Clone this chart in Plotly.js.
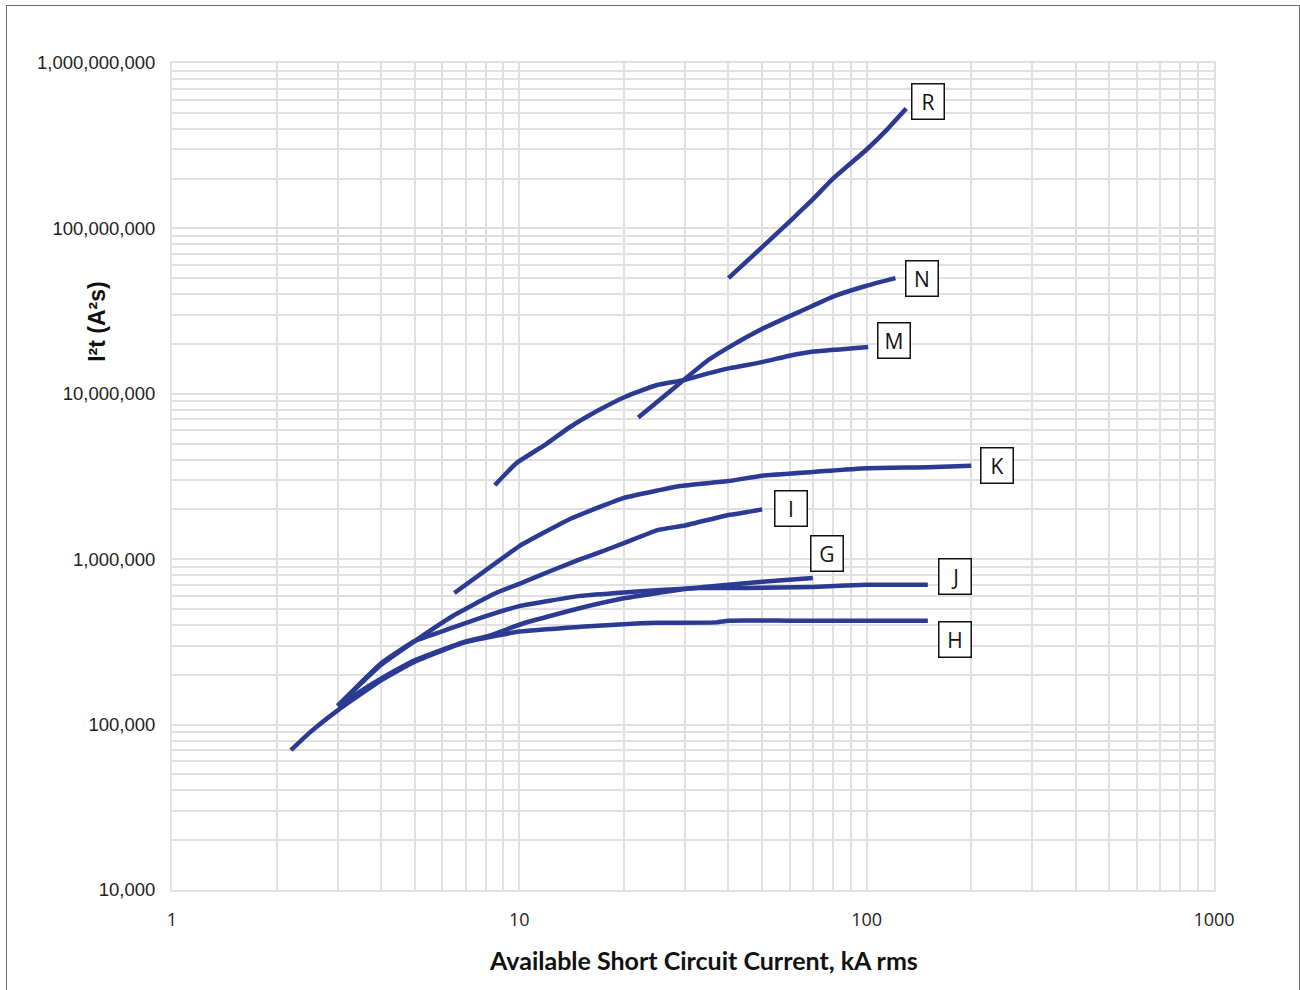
<!DOCTYPE html>
<html>
<head>
<meta charset="utf-8">
<script src="https://cdn.plot.ly/plotly-3.0.1.min.js"></script>
<style>
  html, body { margin: 0; padding: 0; background: #ffffff; }
  #wrap { position: relative; width: 1300px; height: 990px; }
  #chart { width: 1300px; height: 990px; }
  #frame { position: absolute; left: 6px; top: 5px; width: 1294px; height: 990px;
           border-left: 1.5px solid #6b6b6b; border-top: 1.5px solid #6b6b6b; border-right: 1.5px solid #6b6b6b;
           pointer-events: none; box-sizing: border-box; }
</style>
</head>
<body>
<div id="wrap">
  <div id="chart"></div>
  <div id="frame"></div>
</div>
<script>
// ---- Data (kA rms vs I²t A²s) ----
const R_x = [40, 50, 60, 70, 80, 100, 115, 130];
const R_y = [5.0e7, 7.7e7, 1.1e8, 1.5e8, 2.0e8, 3.0e8, 4.0e8, 5.3e8];

const N_x = [22, 26, 29.7, 35, 40.4, 50.4, 65.7, 80, 100, 121];
const N_y = [7.2e6, 9.6e6, 1.21e7, 1.6e7, 1.93e7, 2.49e7, 3.21e7, 3.87e7, 4.5e7, 5.0e7];

const M_x = [8.5, 9.8, 12, 14, 17, 20.2, 24.9, 29.7, 35, 40.4, 50.4, 60, 70.3, 85, 101];
const M_y = [2.8e6, 3.8e6, 5.0e6, 6.3e6, 8.0e6, 9.6e6, 1.13e7, 1.21e7, 1.33e7, 1.43e7, 1.56e7, 1.7e7, 1.8e7, 1.86e7, 1.92e7];

const K_x = [6.5, 8.8, 10, 14, 20, 25, 29, 40, 50, 70, 100, 150, 200];
const K_y = [6.25e5, 9.9e5, 1.2e6, 1.75e6, 2.35e6, 2.6e6, 2.77e6, 2.97e6, 3.2e6, 3.37e6, 3.55e6, 3.6e6, 3.67e6];

const I_x = [3, 4, 5, 6.5, 8.5, 10, 12.5, 15, 17, 20, 25, 30, 40, 45, 50];
const I_y = [1.3e5, 2.3e5, 3.2e5, 4.6e5, 6.2e5, 7.1e5, 8.6e5, 1.0e6, 1.1e6, 1.25e6, 1.5e6, 1.6e6, 1.85e6, 1.92e6, 2.0e6];

const G_x = [3, 4, 5, 6.9, 8.2, 10.3, 14.6, 20, 30, 40, 50, 70];
const G_y = [1.3e5, 1.9e5, 2.45e5, 3.15e5, 3.45e5, 4.1e5, 5.0e5, 5.8e5, 6.6e5, 7.0e5, 7.3e5, 7.7e5];

const J_x = [3, 4, 5, 6.3, 7.7, 10, 15, 20, 33, 45, 70, 100, 150];
const J_y = [1.3e5, 2.35e5, 3.2e5, 3.8e5, 4.4e5, 5.2e5, 6.0e5, 6.3e5, 6.7e5, 6.7e5, 6.8e5, 7.0e5, 7.0e5];

const H_x = [2.2, 2.5, 3, 4, 5, 7, 10, 15, 20, 25, 37, 40, 60, 100, 150];
const H_y = [7.0e4, 9.0e4, 1.22e5, 1.85e5, 2.4e5, 3.15e5, 3.65e5, 3.9e5, 4.05e5, 4.13e5, 4.15e5, 4.25e5, 4.25e5, 4.25e5, 4.25e5];

const seriesNames = ["R", "N", "M", "K", "I", "G", "J", "H"];
const seriesX = [R_x, N_x, M_x, K_x, I_x, G_x, J_x, H_x];
const seriesY = [R_y, N_y, M_y, K_y, I_y, G_y, J_y, H_y];

const xTickVals = [1, 10, 100, 1000];
const xTickText = ["1", "10", "100", "1000"];
const yTickVals = [1e4, 1e5, 1e6, 1e7, 1e8, 1e9];
const yTickText = ["10,000", "100,000", "1,000,000", "10,000,000", "100,000,000", "1,000,000,000"];

const xTitle = "Available Short Circuit Current, kA rms";
const yTitle = "I²t (A²s)";

// label offsets (pixels) from each curve's end point
const labelShift = {
  R: [22, 7], N: [27, 0], M: [26, 6], K: [26, 0],
  I: [29, 1], G: [14, 24], J: [27, 8], H: [27, -19]
};

// ---- Build ----
const lineColor = "#2b3a92";
const traces = seriesNames.map((n, i) => ({
  type: "scatter", mode: "lines", name: n,
  x: seriesX[i], y: seriesY[i],
  line: { color: lineColor, width: 4.5, shape: "spline", smoothing: 0.4 },
  hoverinfo: "x+y+name"
}));

const minorX = [], minorY = [];
for (let d = 0; d < 3; d++) for (let k = 2; k <= 9; k++) minorX.push(k * Math.pow(10, d));
for (let d = 4; d < 9; d++) for (let k = 2; k <= 9; k++) minorY.push(k * Math.pow(10, d));

const annotations = seriesNames.map((n, i) => {
  const xs = seriesX[i], ys = seriesY[i];
  return {
    x: Math.log10(xs[xs.length - 1]), y: Math.log10(ys[ys.length - 1]),
    xref: "x", yref: "y", text: n, showarrow: false,
    xshift: labelShift[n][0], yshift: labelShift[n][1],
    font: { family: "Open Sans, Noto Sans, sans-serif", size: 21, color: "#111111" },
    bgcolor: "#ffffff", bordercolor: "#111111", borderwidth: 1.5, borderpad: 1,
    width: 29, height: 32, align: "center", valign: "middle"
  };
});
annotations.push({
  x: 0.51, y: -0.0846, xref: "paper", yref: "paper", xanchor: "center", yanchor: "middle",
  text: "<b>" + xTitle + "</b>", showarrow: false,
  font: { family: "Lato, Open Sans, sans-serif", size: 25, color: "#111111" }
});
annotations.push({
  x: -0.072, y: 0.687, xref: "paper", yref: "paper", xanchor: "center", yanchor: "middle",
  text: "<b>" + yTitle + "</b>", showarrow: false, textangle: -90,
  font: { family: "Liberation Sans, Arial, sans-serif", size: 23, color: "#111111" }
});

const gridColor = "#e0e0e0";
const layout = {
  width: 1300, height: 990,
  margin: { l: 172, r: 86, t: 63, b: 100 },
  paper_bgcolor: "#ffffff", plot_bgcolor: "#ffffff",
  showlegend: false,
  xaxis: {
    type: "log", range: [0, 3],
    tickvals: xTickVals, ticktext: xTickText,
    tickfont: { family: "Open Sans, sans-serif", size: 18, color: "#222222" },
    showgrid: true, gridcolor: gridColor, gridwidth: 2,
    minor: { tickvals: minorX, showgrid: true, gridcolor: gridColor, gridwidth: 2, ticks: "" },
    zeroline: false, showline: true, mirror: true, linecolor: gridColor, linewidth: 2,
    ticks: "outside", ticklen: 12, tickcolor: "rgba(0,0,0,0)"
  },
  yaxis: {
    type: "log", range: [4, 9],
    tickvals: yTickVals, ticktext: yTickText,
    tickfont: { family: "Liberation Sans, Arial, sans-serif", size: 18.5, color: "#222222" },
    showgrid: true, gridcolor: gridColor, gridwidth: 2,
    minor: { tickvals: minorY, showgrid: true, gridcolor: gridColor, gridwidth: 2, ticks: "" },
    zeroline: false, showline: true, mirror: true, linecolor: gridColor, linewidth: 2,
    ticks: "outside", ticklen: 11, tickcolor: "rgba(0,0,0,0)"
  },
  annotations: annotations
};

Plotly.newPlot("chart", traces, layout, { displayModeBar: false, staticPlot: true });
</script>
</body>
</html>
